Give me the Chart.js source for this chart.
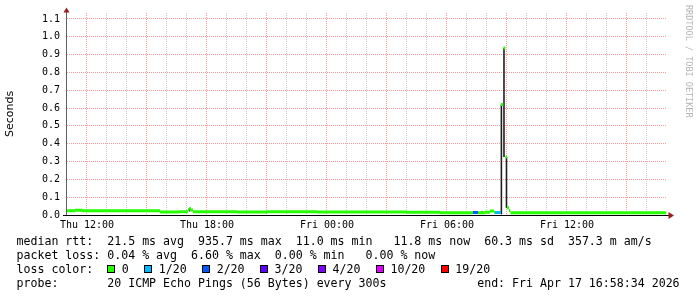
<!DOCTYPE html>
<html>
<head>
<meta charset="utf-8">
<script src="https://cdn.jsdelivr.net/npm/chart.js@4.4.1/dist/chart.umd.min.js"></script>
<style>
  body { margin: 0; background: #fff; }
  #wrap { position: relative; width: 697px; height: 297px; overflow: hidden; }
  #legend {
    position: absolute; left: 16.5px; top: 234px;
    font-family: "DejaVu Sans Mono", monospace; font-size: 11.6px;
    line-height: 14px; white-space: pre; color: #000;
  }
  .row { height: 14px; display: flex; align-items: baseline; }
  .box { display: inline-block; width: 8px; height: 8px; box-sizing: border-box; border: 1px solid #000; margin-right: 6.5px; }
  .item { margin-right: 15.5px; }
</style>
</head>
<body>
<div id="wrap">
  <canvas id="chart" width="697" height="297"></canvas>
  <div id="legend"></div>
</div>
<script>
// time axis: hours since Thu 00:00
const startHour = 11.0;
const endHour = 40.976; // Fri 16:58:34

const labelHours = [12, 18, 24, 30, 36];
const labelTexts = ["Thu 12:00", "Thu 18:00", "Fri 00:00", "Fri 06:00", "Fri 12:00"];
const yTicks = [0.0, 0.1, 0.2, 0.3, 0.4, 0.5, 0.6, 0.7, 0.8, 0.9, 1.0, 1.1];

// median rtt in seconds, one run per entry (start hour, value, loss level index)
const medianStart = [11.0, 11.4, 11.75, 15.65, 16.6, 17.05, 17.12, 17.2, 17.3, 19.5, 21.0, 23.5, 26.0, 28.0, 29.65, 30.6, 31.3, 31.55, 31.9, 32.15, 32.35, 32.4, 32.7, 32.82, 32.92, 33.0, 33.1, 33.17];
const medianValue = [0.024, 0.026, 0.024, 0.017, 0.018, 0.03, 0.037, 0.028, 0.018, 0.017, 0.018, 0.017, 0.017, 0.016, 0.012, 0.013, 0.014, 0.012, 0.016, 0.022, 0.016, 0.014, 0.62, 0.937, 0.326, 0.04, 0.025, 0.012];
const medianLoss = [0, 0, 0, 0, 0, 0, 0, 0, 0, 0, 0, 0, 0, 0, 0, 0, 2, 0, 0, 0, 0, 1, 0, 0, 0, 0, 0, 0];

// smoke (ping spread) in seconds
const smokeHour = [17.13, 31.35, 31.75, 32.05, 32.72, 32.85, 32.975];
const smokeLow = [0.02, 0.012, 0.016, 0.016, 0.004, 0.326, 0.04];
const smokeHigh = [0.036, 0.02, 0.022, 0.022, 0.62, 0.937, 0.326];

const lossLabels = ["0", "1/20", "2/20", "3/20", "4/20", "10/20", "19/20"];
const lossColors = ["#26ff00", "#00b8ff", "#0059ff", "#5e00ff", "#7e00ff", "#dd00ff", "#ff0000"];

const legendLines = [
  "median rtt:  21.5 ms avg  935.7 ms max  11.0 ms min   11.8 ms now  60.3 ms sd  357.3 m am/s",
  "packet loss: 0.04 % avg  6.60 % max  0.00 % min   0.00 % now",
];
const probeLine = "probe:       20 ICMP Echo Pings (56 Bytes) every 300s             end: Fri Apr 17 16:58:34 2026";

// build median runs as flat pieces
const medianPoints = [];
medianStart.forEach((t, i) => {
  const t2 = i + 1 < medianStart.length ? medianStart[i + 1] : endHour;
  medianPoints.push({ x: t, y: medianValue[i], loss: medianLoss[i] });
  medianPoints.push({ x: t2, y: medianValue[i], loss: medianLoss[i] });
  medianPoints.push({ x: t2, y: null });
});

const smokePoints = [];
smokeHour.forEach((t, i) => {
  smokePoints.push({ x: t, y: smokeLow[i] }, { x: t, y: smokeHigh[i] }, { x: t, y: null });
});

const gridHours = [];
for (let h = Math.ceil(startHour + 0.5); h <= endHour; h++) gridHours.push(h);

const majorGrid = "rgba(255, 0, 0, 0.4)";
const minorGrid = "rgba(140, 140, 140, 0.45)";

// axis lines, arrows and the rrdtool watermark
const decor = {
  id: "decor",
  afterDatasetsDraw(chart) {
    const { ctx, chartArea } = chart;
    const yb = chartArea.bottom + 0.5;
    const xl = chartArea.left - 0.5;
    ctx.save();
    ctx.lineWidth = 1;
    ctx.strokeStyle = "#606060";
    ctx.beginPath();
    ctx.moveTo(xl, chartArea.bottom + 1);
    ctx.lineTo(xl, chartArea.top - 1);
    ctx.stroke();
    ctx.strokeStyle = "#000";
    ctx.beginPath();
    ctx.moveTo(chartArea.left - 4, yb);
    ctx.lineTo(chartArea.right + 2.5, yb);
    ctx.stroke();
    ctx.fillStyle = "#9b1c1c";
    ctx.beginPath();
    ctx.moveTo(chartArea.right + 2, yb - 3.5);
    ctx.lineTo(chartArea.right + 7.5, yb);
    ctx.lineTo(chartArea.right + 2, yb + 3.5);
    ctx.closePath();
    ctx.fill();
    ctx.beginPath();
    ctx.moveTo(xl - 3, chartArea.top - 0.5);
    ctx.lineTo(xl, chartArea.top - 5.5);
    ctx.lineTo(xl + 3, chartArea.top - 0.5);
    ctx.closePath();
    ctx.fill();
    ctx.translate(688.5, 5);
    ctx.rotate(Math.PI / 2);
    ctx.font = "8.5px 'DejaVu Sans Mono'";
    ctx.fillStyle = "#b4b4b4";
    ctx.textBaseline = "middle";
    ctx.fillText("RRDTOOL / TOBI OETIKER", 0, 0);
    ctx.restore();
  },
};

const ctx = document.getElementById("chart").getContext("2d");
new Chart(ctx, {
  type: "line",
  data: {
    datasets: [
      {
        label: "median rtt",
        data: medianPoints,
        borderWidth: 3,
        borderCapStyle: "butt",
        pointRadius: 0,
        fill: false,
        segment: {
          borderColor: (c) => lossColors[medianPoints[c.p0DataIndex].loss || 0],
        },
      },
      {
        label: "smoke",
        data: smokePoints,
        borderColor: "#1e1e1e",
        borderWidth: 1.6,
        borderCapStyle: "butt",
        pointRadius: 0,
        fill: false,
      },
    ],
  },
  options: {
    responsive: false,
    animation: false,
    layout: { padding: { top: 13, right: 30.5, left: 0, bottom: 0 } },
    plugins: { legend: { display: false }, tooltip: { enabled: false } },
    scales: {
      x: {
        type: "linear",
        min: startHour,
        max: endHour,
        afterFit: (s) => { s.height = 82; },
        afterBuildTicks: (s) => { s.ticks = gridHours.map((v) => ({ value: v })); },
        ticks: {
          autoSkip: false,
          maxRotation: 0,
          padding: 4,
          color: "#000",
          font: { family: "DejaVu Sans Mono", size: 10 },
          callback: (v) => {
            const i = labelHours.indexOf(v);
            return i >= 0 ? labelTexts[i] : "";
          },
        },
        grid: {
          drawTicks: false,
          lineWidth: 1,
          color: (c) => (c.tick && c.tick.value % 3 === 0 ? majorGrid : minorGrid),
        },
        border: { display: false, dash: [1, 1] },
      },
      y: {
        min: 0,
        max: 1.1336,
        afterFit: (s) => { s.width = 67; },
        afterBuildTicks: (s) => { s.ticks = yTicks.map((v) => ({ value: v })); },
        ticks: {
          padding: 7,
          color: "#000",
          font: { family: "DejaVu Sans Mono", size: 10 },
          callback: (v) => v.toFixed(1),
        },
        title: {
          display: true,
          text: "Seconds",
          color: "#000",
          font: { family: "DejaVu Sans", size: 11 },
          padding: { top: 4, bottom: 0 },
        },
        grid: { drawTicks: false, lineWidth: 1, color: majorGrid },
        border: { display: false, dash: [1, 1] },
      },
    },
  },
  plugins: [decor],
});

// text legend below the graph
const legend = document.getElementById("legend");
legendLines.forEach((line) => {
  const row = document.createElement("div");
  row.className = "row";
  row.textContent = line;
  legend.appendChild(row);
});
const lossRow = document.createElement("div");
lossRow.className = "row";
const head = document.createElement("span");
head.textContent = "loss color:  ";
lossRow.appendChild(head);
lossLabels.forEach((lbl, i) => {
  const box = document.createElement("span");
  box.className = "box";
  box.style.background = lossColors[i];
  const txt = document.createElement("span");
  txt.className = "item";
  txt.textContent = lbl;
  lossRow.appendChild(box);
  lossRow.appendChild(txt);
});
legend.appendChild(lossRow);
const probe = document.createElement("div");
probe.className = "row";
probe.textContent = probeLine;
legend.appendChild(probe);
</script>
</body>
</html>
